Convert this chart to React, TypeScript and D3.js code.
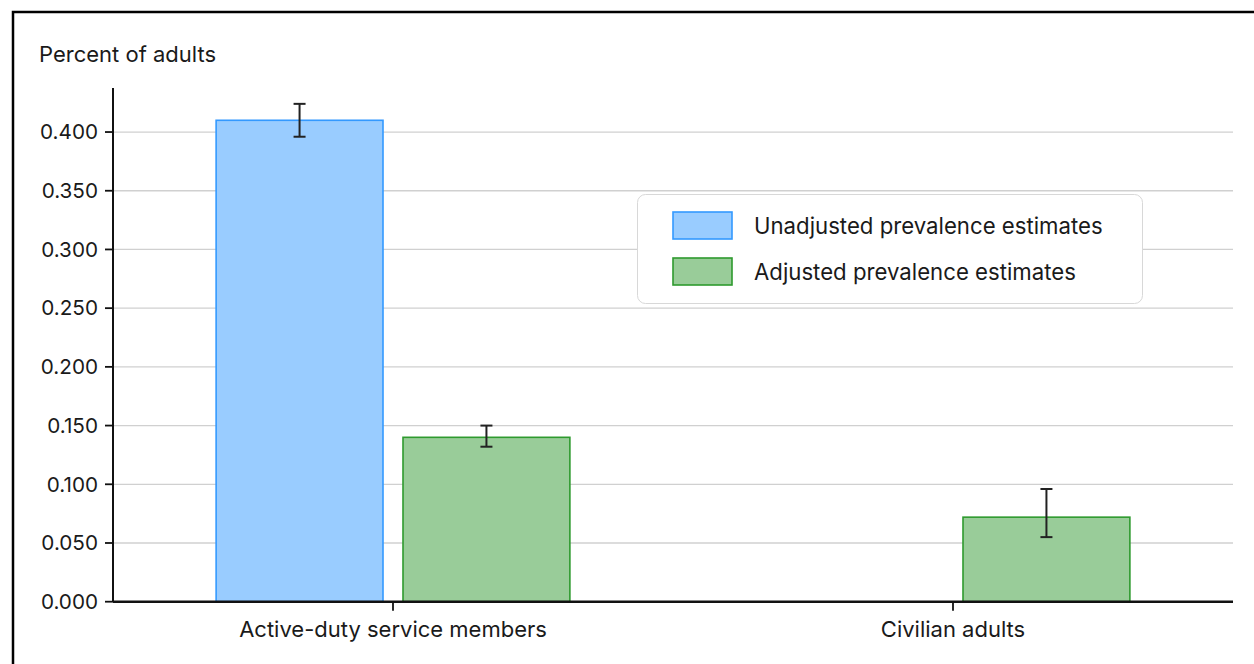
import React from "react";
import * as d3 from "d3";

const categories = ["Active-duty service members", "Civilian adults"];
const seriesNames = ["Unadjusted prevalence estimates", "Adjusted prevalence estimates"];
const unadjusted: (number | null)[] = [0.41, null];
const unadjustedLow: (number | null)[] = [0.396, null];
const unadjustedHigh: (number | null)[] = [0.424, null];
const adjusted: (number | null)[] = [0.14, 0.072];
const adjustedLow: (number | null)[] = [0.132, 0.055];
const adjustedHigh: (number | null)[] = [0.15, 0.096];
const yTicks = [0, 0.05, 0.1, 0.15, 0.2, 0.25, 0.3, 0.35, 0.4];

const FONT = "Inter, 'Noto Sans', sans-serif";
const fills = ["#99ccff", "#99cc99"];
const strokes = ["#3399ff", "#2e9a2e"];

export default function App() {
  const W = 1254, H = 664;
  const left = 113, right = 1233, top = 88, bottom = 601.7;
  const x = d3.scaleBand<string>().domain(categories).range([left, right]).padding(0);
  const y = d3.scaleLinear().domain([0, 0.4375]).range([bottom, top]);
  const barW = x.bandwidth() * 0.298;
  const gap = 20;
  const series = [
    { vals: unadjusted, lo: unadjustedLow, hi: unadjustedHigh, off: -(barW / 2 + gap / 2) },
    { vals: adjusted, lo: adjustedLow, hi: adjustedHigh, off: barW / 2 + gap / 2 },
  ];
  const fmt = d3.format(".3f");
  return (
    <svg width={W} height={H} style={{ position: "fixed", left: 0, top: 0, background: "#fff" }} fontFamily={FONT}>
      <rect x={0} y={0} width={W} height={H} fill="#fff" />
      <rect x={13} y={12} width={W + 20} height={H + 20} fill="none" stroke="#000" strokeWidth={2.5} />
      <text x={39} y={62} fontSize={22} fill="#1a1a1a">Percent of adults</text>
      {yTicks.map((t) => (
        <g key={t}>
          {t > 0 && <line x1={left} x2={right} y1={y(t)} y2={y(t)} stroke="#d0d0d0" strokeWidth={1.3} />}
          <line x1={105} x2={left} y1={y(t)} y2={y(t)} stroke="#111" strokeWidth={1.8} />
          <text x={98} y={y(t)} dy="0.35em" textAnchor="end" fontSize={20.7} fill="#1a1a1a">{fmt(t)}</text>
        </g>
      ))}
      {series.map((s, si) =>
        categories.map((c, ci) => {
          const v = s.vals[ci];
          if (v == null) return null;
          const cx = (x(c) as number) + x.bandwidth() / 2 + s.off;
          return (
            <g key={si + "-" + ci}>
              <rect x={cx - barW / 2} y={y(v)} width={barW} height={bottom - y(v)} fill={fills[si]} stroke={strokes[si]} strokeWidth={1.6} />
            </g>
          );
        })
      )}
      {series.map((s, si) =>
        categories.map((c, ci) => {
          const v = s.vals[ci];
          if (v == null) return null;
          const cx = (x(c) as number) + x.bandwidth() / 2 + s.off;
          const lo = s.lo[ci] as number, hi = s.hi[ci] as number;
          return (
            <g key={"e" + si + "-" + ci} stroke="#222" strokeWidth={2}>
              <line x1={cx} x2={cx} y1={y(lo)} y2={y(hi)} />
              <line x1={cx - 6} x2={cx + 6} y1={y(lo)} y2={y(lo)} />
              <line x1={cx - 6} x2={cx + 6} y1={y(hi)} y2={y(hi)} />
            </g>
          );
        })
      )}
      <line x1={left} x2={left} y1={top} y2={bottom} stroke="#111" strokeWidth={2} />
      <line x1={left} x2={right} y1={bottom} y2={bottom} stroke="#111" strokeWidth={2.5} />
      {categories.map((c) => {
        const cx = (x(c) as number) + x.bandwidth() / 2;
        return (
          <g key={c}>
            <line x1={cx} x2={cx} y1={bottom} y2={bottom + 9} stroke="#111" strokeWidth={1.8} />
            <text x={cx} y={637} textAnchor="middle" fontSize={22} fill="#1a1a1a">{c}</text>
          </g>
        );
      })}
      <rect x={637.5} y={194.5} width={505} height={109} rx={8} fill="#fff" stroke="#d8d8d8" strokeWidth={1} />
      {seriesNames.map((n, i) => (
        <g key={n}>
          <rect x={673} y={212 + i * 46} width={59} height={27} fill={fills[i]} stroke={strokes[i]} strokeWidth={1.6} />
          <text x={754} y={226 + i * 46} dy="0.35em" fontSize={22.2} fill="#1a1a1a">{n}</text>
        </g>
      ))}
    </svg>
  );
}
